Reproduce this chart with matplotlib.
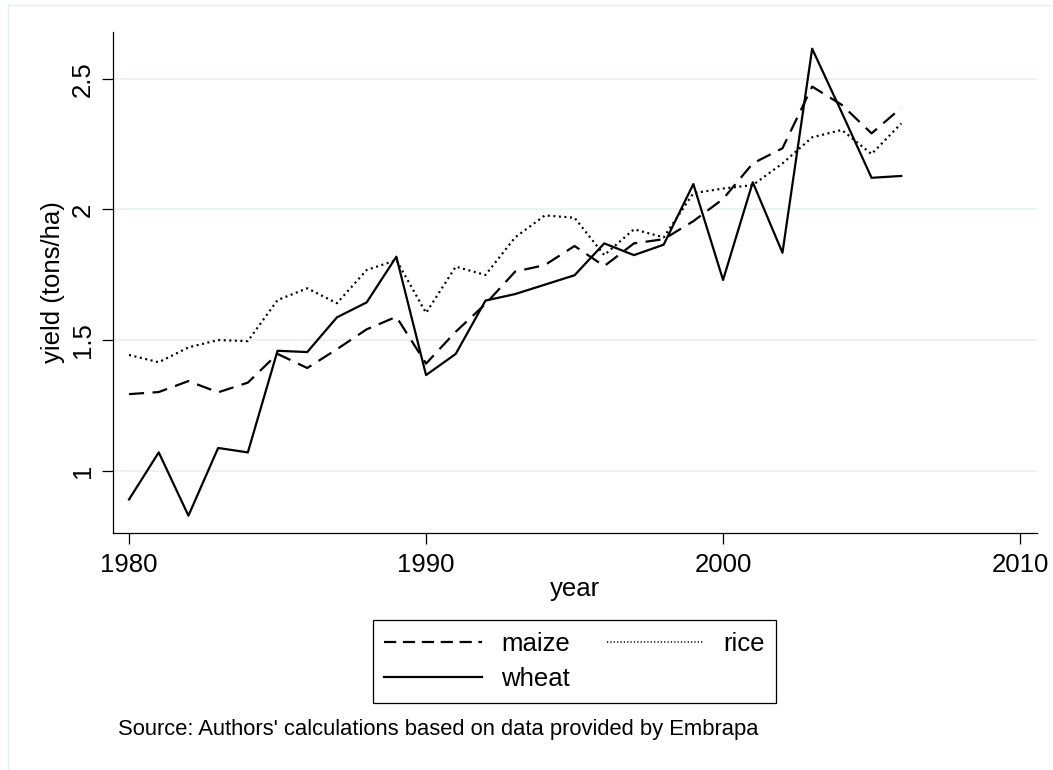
import numpy as np
import matplotlib.pyplot as plt
import matplotlib as mpl
from matplotlib.lines import Line2D

mpl.rc('font', **{'family': 'sans-serif', 'sans-serif': ['Liberation Sans', 'DejaVu Sans']})
mpl.rc('font', size=18.5)

# yields, tons/ha
years = list(range(1980, 2007))
maize = [1.293, 1.301, 1.343, 1.300, 1.337, 1.447, 1.393, 1.465, 1.541, 1.589,
         1.410, 1.532, 1.638, 1.762, 1.787, 1.860, 1.783, 1.870, 1.886, 1.955,
         2.040, 2.176, 2.234, 2.470, 2.400, 2.291, 2.389]
rice = [1.443, 1.415, 1.472, 1.500, 1.496, 1.653, 1.698, 1.641, 1.768, 1.806,
        1.604, 1.781, 1.749, 1.893, 1.977, 1.968, 1.825, 1.924, 1.893, 2.062,
        2.080, 2.093, 2.176, 2.276, 2.304, 2.212, 2.329]
wheat = [0.890, 1.070, 0.828, 1.087, 1.070, 1.459, 1.454, 1.587, 1.644, 1.819,
         1.366, 1.447, 1.651, 1.676, 1.712, 1.748, 1.870, 1.825, 1.865, 2.097,
         1.730, 2.104, 1.834, 2.615, 2.370, 2.121, 2.128]

xticks = [1980, 1990, 2000, 2010]
yticks = [1, 1.5, 2, 2.5]
ytick_labels = ['1', '1.5', '2', '2.5']

W, H = 1053, 770
fig = plt.figure(figsize=(W / 100, H / 100), dpi=100)
ax = fig.add_axes([112.7 / W, 1 - 532.7 / H, (1036.7 - 112.7) / W, (532.7 - 32) / H])

grid_col = '#e6eff1'
for yv in yticks:
    ax.axhline(yv, color=grid_col, lw=1.1, zorder=0)

lw = 1.6
l_maize, = ax.plot(years, maize, color='black', lw=lw, linestyle=(0, (6.8, 3.8)))
l_rice, = ax.plot(years, rice, color='black', lw=lw, linestyle=(0, (0.9, 1.6)))
l_wheat, = ax.plot(years, wheat, color='black', lw=lw, linestyle='-')

ax.set_xlim(1979.45, 2010.56)
ax.set_ylim(0.7627, 2.679)

ax.spines['right'].set_visible(False)
ax.spines['top'].set_visible(False)
ax.spines['left'].set_linewidth(0.9)
ax.spines['bottom'].set_linewidth(0.9)

ax.set_xticks(xticks)
ax.set_yticks(yticks)
ax.set_yticklabels(ytick_labels, rotation=90, va='center')
ax.tick_params(axis='both', direction='out', length=8, width=0.9, colors='black')
ax.tick_params(axis='x', pad=6.5)
ax.tick_params(axis='y', pad=4.7)

ax.set_xlabel('year', labelpad=0)
ax.set_ylabel('yield (tons/ha)')
ax.yaxis.set_label_coords(-0.0516, 0.5)

# legend: maize / rice on first row, wheat underneath
leg = fig.legend([l_maize, l_wheat, l_rice], ['maize', 'wheat', 'rice'],
                 ncol=2, loc='center', bbox_to_anchor=(574.5 / W, 1 - 661.5 / H),
                 frameon=True, fancybox=False, framealpha=1, edgecolor='black',
                 handlelength=3.8, handletextpad=0.74, columnspacing=1.44,
                 labelspacing=0.45, borderpad=0.45, borderaxespad=0)
leg.get_frame().set_linewidth(0.9)
leg.legend_handles[0].set_linestyle((0, (5.5, 3.0)))
leg.legend_handles[2].set_linestyle((0, (0.8, 1.4)))
leg.legend_handles[2].set_linewidth(1.1)

fig.text(118 / W, 1 - 735 / H, "Source: Authors' calculations based on data provided by Embrapa",
         fontsize=15.8, va='baseline', ha='left')

# faint outer frame of the graph region
fig.add_artist(Line2D([8 / W, 8 / W], [0, 1 - 5 / H], color='#e6eff1', lw=1.0))
fig.add_artist(Line2D([8 / W, 1], [1 - 5 / H, 1 - 5 / H], color='#e6eff1', lw=1.0))

fig.savefig('out.png', dpi=100)
